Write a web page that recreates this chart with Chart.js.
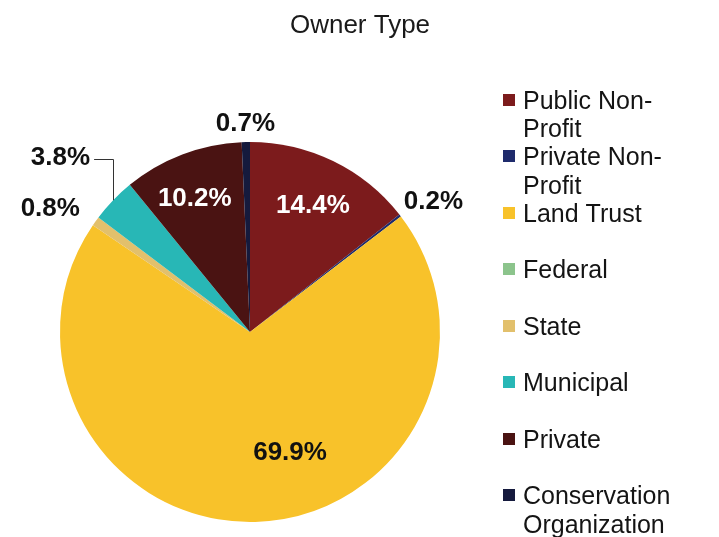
<!DOCTYPE html>
<html>
<head>
<meta charset="utf-8">
<script src="https://cdn.jsdelivr.net/npm/chart.js@4.4.1/dist/chart.umd.min.js"></script>
<style>
  html, body { margin: 0; padding: 0; background: #ffffff; }
  #c { display: block; }
</style>
</head>
<body>
<canvas id="c" width="719" height="537"></canvas>
<script>
// Owner type shares (percent of total)
const ownerTypes = ["Public Non-Profit", "Private Non-Profit", "Land Trust", "Federal", "State", "Municipal", "Private", "Conservation Organization"];
const shares = [14.4, 0.2, 69.9, 0, 0.8, 3.8, 10.2, 0.7];
const sliceColors = ["#7c1b1c", "#1f2b6c", "#f8c22a", "#8cc48c", "#e2c06c", "#28b7b6", "#4a1312", "#151a3d"];

// Label placement: radial distance as a fraction of the radius, and angular nudge in degrees
const labelRadius = [0.75, 1.19, 0.66, 0, 1.24, 1.36, 0.77, 1.105];
const labelShift = [0.3, 2, -17, 0, -3.6, -1.1, -1.3, 0];
const labelInk = ["#ffffff", "#111111", "#111111", "#111111", "#111111", "#111111", "#ffffff", "#111111"];
const leaderLine = [false, false, false, false, false, true, false, false];

const FONT = '"Liberation Sans", Arial, Helvetica, sans-serif';

const sliceLabels = {
  id: 'sliceLabels',
  afterDatasetsDraw(chart) {
    const ctx = chart.ctx;
    const meta = chart.getDatasetMeta(0);
    ctx.save();
    ctx.font = 'bold 26px ' + FONT;
    ctx.textAlign = 'center';
    ctx.textBaseline = 'alphabetic';
    meta.data.forEach((arc, i) => {
      const v = shares[i];
      if (!v) return;
      const p = arc.getProps(['x', 'y', 'startAngle', 'endAngle', 'outerRadius'], true);
      const mid = (p.startAngle + p.endAngle) / 2;
      const a = mid + labelShift[i] * Math.PI / 180;
      const r = p.outerRadius * labelRadius[i];
      const lx = p.x + Math.cos(a) * r;
      const ly = p.y + Math.sin(a) * r;
      const text = v.toFixed(1) + '%';
      ctx.fillStyle = labelInk[i];
      ctx.fillText(text, lx, ly + 9);
      if (leaderLine[i]) {
        const w = ctx.measureText(text).width;
        const ex = p.x + Math.cos(mid) * p.outerRadius;
        const ey = p.y + Math.sin(mid) * p.outerRadius;
        ctx.strokeStyle = '#333333';
        ctx.lineWidth = 1;
        ctx.beginPath();
        ctx.moveTo(lx + w / 2 + 4, Math.round(ly + 3) + 0.5);
        ctx.lineTo(Math.round(ex) + 0.5, Math.round(ly + 3) + 0.5);
        ctx.lineTo(Math.round(ex) + 0.5, ey);
        ctx.stroke();
      }
    });
    ctx.restore();
  }
};

function wrapText(ctx, text, maxWidth) {
  const parts = text.split(/(?<=-)|\s+/).filter(s => s.length);
  const lines = [];
  let cur = '';
  parts.forEach(part => {
    const joiner = cur && !cur.endsWith('-') ? ' ' : '';
    const trial = cur + joiner + part;
    if (cur && ctx.measureText(trial).width > maxWidth) {
      lines.push(cur);
      cur = part;
    } else {
      cur = trial;
    }
  });
  if (cur) lines.push(cur);
  return lines;
}

const sideLegend = {
  id: 'sideLegend',
  afterDraw(chart) {
    const ctx = chart.ctx;
    const labels = chart.data.labels;
    const colors = chart.data.datasets[0].backgroundColor;
    ctx.save();
    ctx.font = '25px ' + FONT;
    ctx.textAlign = 'left';
    ctx.textBaseline = 'alphabetic';
    const boxX = 503, textX = 523, firstY = 99.5, step = 56.5, lineGap = 28.5;
    labels.forEach((label, i) => {
      const cy = firstY + i * step;
      ctx.fillStyle = colors[i];
      ctx.fillRect(boxX, Math.round(cy - 6), 12, 12);
      ctx.fillStyle = '#141414';
      wrapText(ctx, label, 160).forEach((line, k) => {
        ctx.fillText(line, textX, cy + 9 + k * lineGap);
      });
    });
    // chart heading
    ctx.font = '26px ' + FONT;
    ctx.textAlign = 'center';
    ctx.fillStyle = '#1a1a1a';
    ctx.fillText('Owner Type', 360, 33);
    ctx.restore();
  }
};

new Chart(document.getElementById('c'), {
  type: 'pie',
  data: {
    labels: ownerTypes,
    datasets: [{
      data: shares,
      backgroundColor: sliceColors,
      borderWidth: 0,
      offset: 0,
      hoverOffset: 0
    }]
  },
  options: {
    responsive: false,
    animation: false,
    layout: { padding: { left: 60, right: 279, top: 142, bottom: 15 } },
    plugins: {
      legend: { display: false },
      title: { display: false },
      tooltip: { enabled: false }
    }
  },
  plugins: [sliceLabels, sideLegend]
});
</script>
</body>
</html>
